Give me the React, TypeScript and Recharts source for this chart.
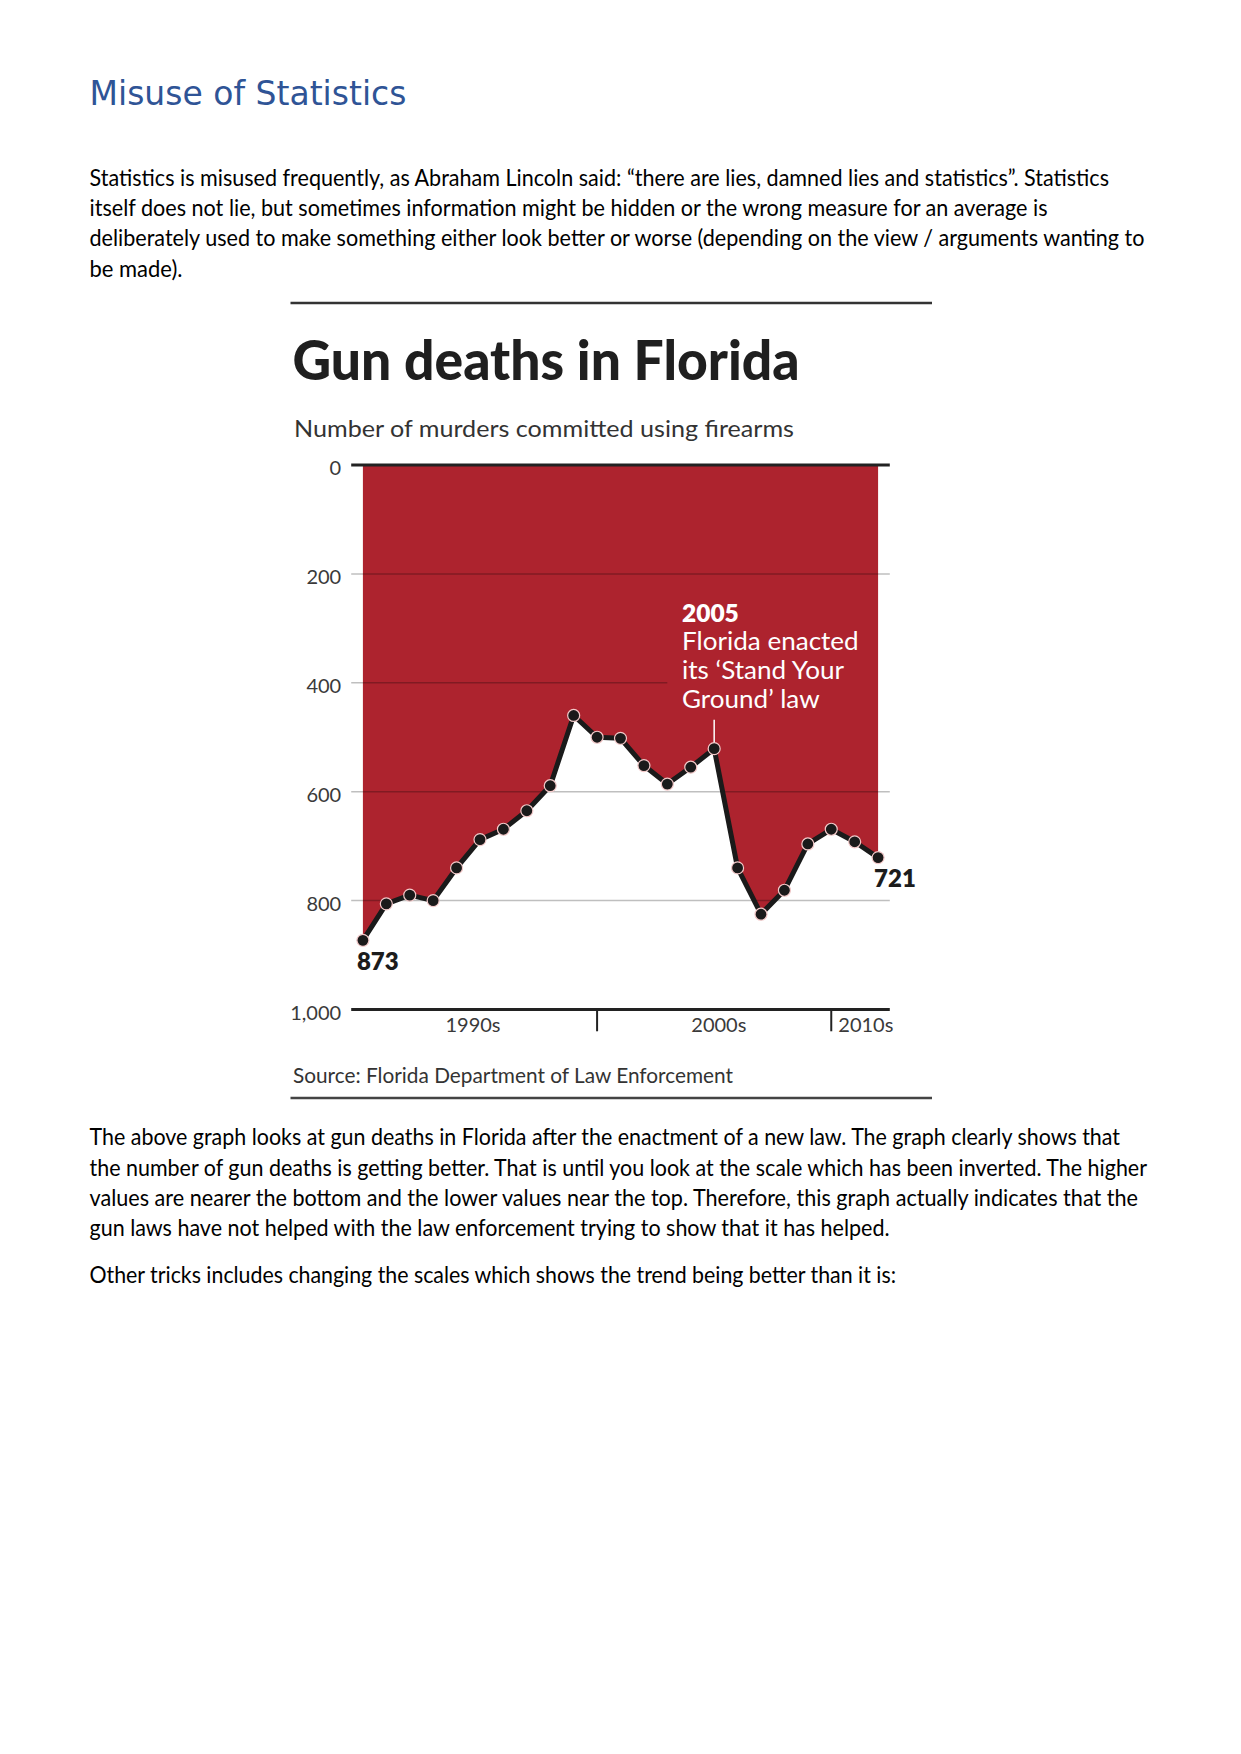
import React from 'react';
import { ComposedChart, Area, Line, XAxis, YAxis, ReferenceLine, LabelList } from 'recharts';

// ---- data ----
const years = [1990, 1991, 1992, 1993, 1994, 1995, 1996, 1997, 1998, 1999, 2000, 2001, 2002, 2003, 2004, 2005, 2006, 2007, 2008, 2009, 2010, 2011, 2012];
const murders = [873, 806, 790, 800, 740, 688, 669, 635, 589, 460, 500, 502, 552, 586, 555, 521, 740, 825, 781, 696, 669, 692, 721];
const yTicks = [0, 200, 400, 600, 800, 1000];
const gridValues = [200, 600, 800];
const decadeTicks = [2000, 2010];
const decadeLabels = ['1990s', '2000s', '2010s'];
const decadeLabelPos = [1994.7, 2005.2, 2010.3];
const annotationYear = 2005;
const annotationLines = ['2005', 'Florida enacted', 'its \u2018Stand Your', 'Ground\u2019 law'];

const title = 'Gun deaths in Florida';
const subtitle = 'Number of murders committed using firearms';
const source = 'Source: Florida Department of Law Enforcement';

const heading = 'Misuse of Statistics';
const para1 = [
  'Statistics is misused frequently, as Abraham Lincoln said: \u201Cthere are lies, damned lies and statistics\u201D. Statistics',
  'itself does not lie, but sometimes information might be hidden or the wrong measure for an average is',
  'deliberately used to make something either look better or worse (depending on the view / arguments wanting to',
  'be made).',
];
const para1Widths = [1019.5, 958, 1055, 93];
const para2 = [
  'The above graph looks at gun deaths in Florida after the enactment of a new law. The graph clearly shows that',
  'the number of gun deaths is getting better. That is until you look at the scale which has been inverted. The higher',
  'values are nearer the bottom and the lower values near the top. Therefore, this graph actually indicates that the',
  'gun laws have not helped with the law enforcement trying to show that it has helped.',
];
const para2Widths = [1030.5, 1057.5, 1048.5, 800];
const para3 = 'Other tricks includes changing the scales which shows the trend being better than it is:';
const para3Width = 806.5;

const data = years.map((year, i) => ({ year, murders: murders[i] }));

const RED = '#AD232E';
const FONT = 'Lato, "Open Sans", sans-serif';

const fmt = (v: number) => v.toLocaleString('en-US');

const YTick = (props: any) => {
  const { x, y, payload } = props;
  return (
    <text x={x} y={y + 10} textAnchor="end" fill="#3a3a3a" fontSize={20} fontFamily={FONT}>
      {fmt(payload.value)}
    </text>
  );
};

const DecadeTick = (props: any) => {
  const { x, y, payload } = props;
  const idx = decadeLabelPos.indexOf(payload.value);
  return (
    <text x={x} y={y + 22} textAnchor={idx === 2 ? 'start' : 'middle'} fill="#3a3a3a" fontSize={20} fontFamily={FONT}>
      {decadeLabels[idx]}
    </text>
  );
};

const EndLabel = (props: any) => {
  const { x, y, value, index } = props;
  if (index !== 0 && index !== murders.length - 1) return null;
  const dx = index === 0 ? -6 : -4;
  return (
    <text x={x + dx} y={y + 29.5} textAnchor="start" fill="#1c1c1c" fontSize={24} fontWeight={800} fontFamily={FONT}>
      {value}
    </text>
  );
};

export default function App() {
  return (
    <div style={{ position: 'absolute', left: 0, top: 0, width: 1241, height: 1754, background: '#fff' }}>
      {/* page text and chart frame */}
      <svg width={1241} height={1754} style={{ position: 'absolute', left: 0, top: 0 }}>
        <text x={89.5} y={105} fill="#2F5496" fontSize={33} fontFamily='"DejaVu Sans", sans-serif'>{heading}</text>
        {para1.map((t, i) => (
          <text key={'p1' + i} x={89.5} y={186 + i * 30.2} fill="#000" fontSize={23} fontFamily={FONT}
            textLength={para1Widths[i]} lengthAdjust="spacingAndGlyphs">{t}</text>
        ))}
        <line x1={290.5} x2={932} y1={303} y2={303} stroke="#333" strokeWidth={2.5} />
        <text x={292.6} y={380} fill="#1f1f1f" fontSize={55} fontWeight={900} fontFamily={FONT}
          textLength={507} lengthAdjust="spacingAndGlyphs">{title}</text>
        <text x={294} y={436.7} fill="#333" fontSize={23.5} fontFamily={FONT}
          textLength={500} lengthAdjust="spacingAndGlyphs">{subtitle}</text>
        <text x={293} y={1083.3} fill="#333" fontSize={21} fontFamily={FONT}
          textLength={440} lengthAdjust="spacingAndGlyphs">{source}</text>
        <line x1={290.5} x2={932} y1={1098} y2={1098} stroke="#444" strokeWidth={2.5} />
        {para2.map((t, i) => (
          <text key={'p2' + i} x={89.5} y={1145.3 + i * 30.3} fill="#000" fontSize={23} fontFamily={FONT}
            textLength={para2Widths[i]} lengthAdjust="spacingAndGlyphs">{t}</text>
        ))}
        <text x={89.5} y={1283.3} fill="#000" fontSize={23} fontFamily={FONT}
          textLength={para3Width} lengthAdjust="spacingAndGlyphs">{para3}</text>
      </svg>

      <div style={{ position: 'absolute', left: 0, top: 0 }}>
        <ComposedChart width={1241} height={1100} data={data}
          margin={{ top: 465, right: 351.2, bottom: 60.5, left: 0 }}>
          <XAxis dataKey="year" type="number" domain={[1989.5, 2012.5]} ticks={decadeLabelPos} interval={0}
            tick={(p: any) => <DecadeTick {...p} />} tickLine={false} axisLine={false} tickSize={0} tickMargin={0} height={30} />
          <YAxis type="number" domain={[0, 1000]} reversed ticks={yTicks} interval={0}
            tick={(p: any) => <YTick {...p} />} tickLine={false} axisLine={false} width={351.2} tickMargin={4} />
          <Area dataKey="murders" type="linear" fill={RED} fillOpacity={1} stroke="none" baseValue={0}
            isAnimationActive={false} />
          {gridValues.map((v) => (
            <ReferenceLine key={v} y={v} stroke="#000" strokeOpacity={0.25} strokeWidth={1.5} />
          ))}
          <ReferenceLine segment={[{ x: 1989.5, y: 400 }, { x: 2003, y: 400 }]} stroke="#000" strokeOpacity={0.25} strokeWidth={1.5} />
          <ReferenceLine y={0} stroke="#222" strokeWidth={3} />
          <ReferenceLine y={1000} stroke="#222" strokeWidth={3} />
          {decadeTicks.map((t) => (
            <ReferenceLine key={t} segment={[{ x: t, y: 1000 }, { x: t, y: 1040 }]} ifOverflow="visible" stroke="#222" strokeWidth={2} />
          ))}
          <ReferenceLine segment={[{ x: annotationYear, y: 468 }, { x: annotationYear, y: 511 }]} stroke="#fff" strokeWidth={1.5} />
          <Line dataKey="murders" type="linear" stroke="#1a1a1a" strokeWidth={5} strokeLinejoin="round"
            dot={{ r: 6, fill: '#1a1a1a', stroke: '#f3c9c9', strokeWidth: 1.2 }} activeDot={false}
            isAnimationActive={false}>
            <LabelList dataKey="murders" content={(p: any) => <EndLabel {...p} />} />
          </Line>
        </ComposedChart>
      </div>

      {/* annotation text above the red area */}
      <svg width={1241} height={1100} style={{ position: 'absolute', left: 0, top: 0, pointerEvents: 'none' }}>
        <text x={682} y={621.7} fill="#fff" fontSize={25} fontWeight={800} fontFamily={FONT}
          textLength={56.8} lengthAdjust="spacingAndGlyphs">{annotationLines[0]}</text>
        <text x={682} y={649.5} fill="#fff" fontSize={25} fontFamily={FONT}
          textLength={176.7} lengthAdjust="spacingAndGlyphs">{annotationLines[1]}</text>
        <text x={682} y={679} fill="#fff" fontSize={25} fontFamily={FONT}
          textLength={162} lengthAdjust="spacingAndGlyphs">{annotationLines[2]}</text>
        <text x={682} y={708} fill="#fff" fontSize={25} fontFamily={FONT}
          textLength={137.6} lengthAdjust="spacingAndGlyphs">{annotationLines[3]}</text>
      </svg>
    </div>
  );
}
